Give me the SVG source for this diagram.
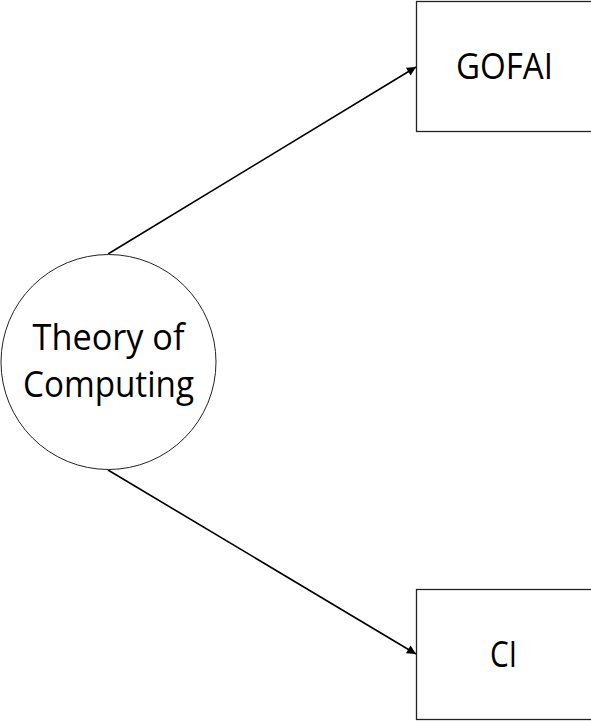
<svg xmlns="http://www.w3.org/2000/svg" width="591" height="721" viewBox="0 0 591 721">
<style>
.box{fill:#fff;stroke:#222;stroke-width:1.3}
.t{font-family:"Open Sans","Liberation Sans",sans-serif;font-size:36px;fill:#000;text-anchor:middle}
.c{fill:none;stroke:#000;stroke-width:1.6}
</style>
<defs>
<marker id="ah" viewBox="0 0 10 10" refX="10" refY="5" markerWidth="11" markerHeight="9" markerUnits="userSpaceOnUse" orient="auto">
<path d="M0,0 L10,5 L0,10 z" fill="#000"/>
</marker>
</defs>
<rect width="591" height="721" fill="#fff"/>
<g id="connectors">
<line class="c" x1="108" y1="254" x2="416" y2="67" marker-end="url(#ah)"/>
<line class="c" x1="108" y1="470" x2="416" y2="654" marker-end="url(#ah)"/>
</g>
<g id="theory">
<circle cx="108.5" cy="362" r="107.5" fill="#fff" stroke="#222" stroke-width="1"/>
<text class="t" x="108.5" y="350" textLength="152" lengthAdjust="spacingAndGlyphs">Theory of</text>
<text class="t" x="108.5" y="397" textLength="171" lengthAdjust="spacingAndGlyphs">Computing</text>
</g>
<g id="gofai">
<rect class="box" x="416.5" y="1.5" width="180" height="130"/>
<text class="t" x="504.5" y="79" textLength="97" lengthAdjust="spacingAndGlyphs">GOFAI</text>
</g>
<g id="ci">
<rect class="box" x="416.5" y="589.5" width="180" height="130"/>
<text class="t" x="503.5" y="667" textLength="27" lengthAdjust="spacingAndGlyphs">CI</text>
</g>
</svg>
